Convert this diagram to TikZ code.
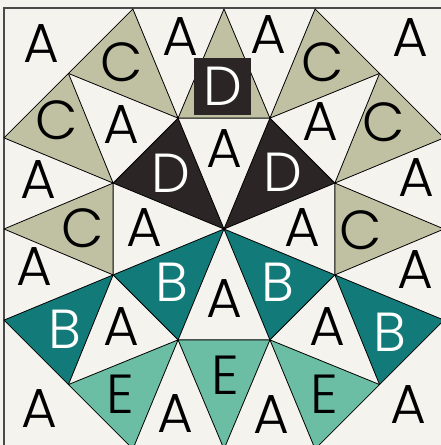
\documentclass[tikz,border=0pt]{standalone}
\usepackage{fontspec}
\setmainfont{Poppins Light}
\usepackage{xcolor}
\usepackage{tikz}
\usetikzlibrary{calc}
\definecolor{fabric}{HTML}{F4F3EE}
\definecolor{sage}{HTML}{BFC1A2}
\definecolor{coal}{HTML}{2B2526}
\definecolor{deepteal}{HTML}{127B79}
\definecolor{mint}{HTML}{6BBDA4}
\definecolor{edge}{HTML}{4A4A4A}

\begin{document}
\begin{tikzpicture}[x=1pt,y=1pt,
  patch/.style={draw=black,line width=0.8pt,line join=round},
  lbl/.style={font=\fontsize{55}{55}\selectfont,inner sep=0pt}]
  \useasboundingbox (-224,-216) rectangle (217,229);
  \clip (-224,-216) rectangle (217,229);
  \fill[fabric] (-224,-216) rectangle (217,229);
  \draw[edge,line width=1.2pt] (-220,-220) rectangle (220,221);
  \coordinate (o) at (0,0);
  \foreach \k in {0,...,7} {
    \coordinate (p\k) at (22.5+45*\k:120);
    \coordinate (q\k) at (45*\k:220);
    \coordinate (s\k) at (22.5+45*\k:238.1);
  }
  % inner ring
  \foreach \a/\b/\c in {0/1/coal,2/3/coal,4/5/deepteal,6/7/deepteal}
    \draw[patch,fill=\c] (o) -- (p\a) -- (p\b) -- cycle;
  % kites on the axes
  \foreach \q/\a/\b/\c in {0/7/0/sage,2/1/2/sage,4/3/4/sage,6/5/6/mint}
    \draw[patch,fill=\c] (q\q) -- (p\a) -- (p\b) -- cycle;
  % side pieces on the diagonals
  \foreach \q/\a/\c in {1/0/sage,1/1/sage,3/2/sage,3/3/sage,5/4/deepteal,5/5/mint,7/7/deepteal,7/6/mint}
    \draw[patch,fill=\c] (q\q) -- (p\a) -- (s\a) -- cycle;
  \node[fill=coal,minimum size=57pt,inner sep=0pt,lbl,text=white] (dsq) at (-1.5,142.5) {D};
  % labels
  \foreach \n/\x/\y in {1/-183/185,2/-44/192,3/44/194,4/186/191,5/-103/104,6/0/80,7/96/107,
    8/-186/49,9/192/51,10/-80/1,11/78/1,12/-190/-38,13/191/-41,14/-103/-98,15/0/-70,
    16/103/-98,17/-185/-180,18/-49/-185,19/47/-186,20/184/-176}
    \node[lbl] (a\n) at (\x,\y) {A};
  \foreach \n/\x/\y in {1/-102/167,2/-167/109,3/-141/1,4/99/167,5/160/107,6/137/-1}
    \node[lbl] (c\n) at (\x,\y) {C};
  \foreach \n/\x/\y in {1/-53/56,2/59/57}
    \node[lbl,text=white] (d\n) at (\x,\y) {D};
  \foreach \n/\x/\y in {1/-159/-100,2/-52/-53,3/54/-53,4/166/-103}
    \node[lbl,text=white] (b\n) at (\x,\y) {B};
  \foreach \n/\x/\y in {1/-104/-165,2/1/-146,3/100/-165}
    \node[lbl] (e\n) at (\x,\y) {E};
\end{tikzpicture}
\end{document}
